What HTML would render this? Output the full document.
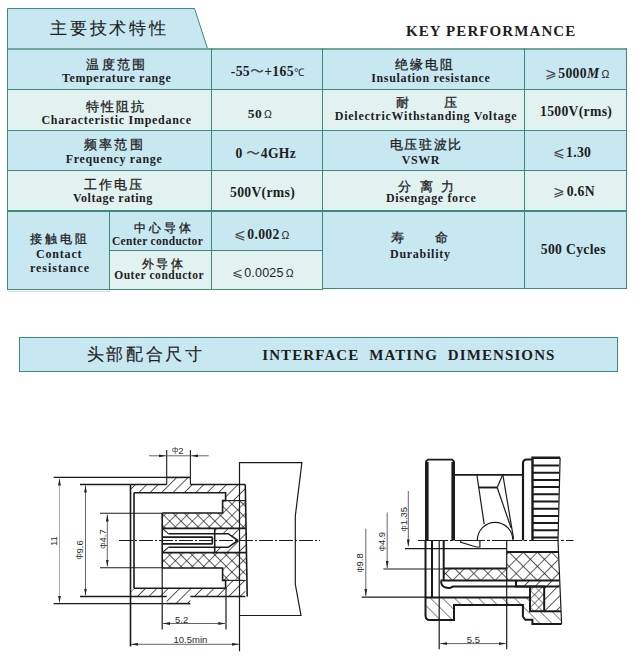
<!DOCTYPE html>
<html><head><meta charset="utf-8">
<style>
html,body{margin:0;padding:0;background:#fff;}
body{width:636px;height:659px;position:relative;overflow:hidden;font-family:"Liberation Sans",sans-serif;color:#1e1e1e;}
span[id]{position:absolute;white-space:pre;line-height:1;}
b.n{font-weight:normal;color:#4a4a4a}
b.it{font-style:italic}
b.o{font-weight:normal;font-size:10.5px;font-family:'Liberation Sans',sans-serif}
.c{position:absolute;}
.h{position:absolute;height:1px;background:#3d8a7a;}
.v{position:absolute;width:1px;background:#3d8a7a;}
svg{position:absolute;left:0;top:0;}
</style></head><body>
<svg width="636" height="659" viewBox="0 0 636 659" style="z-index:0">
<polygon points="7.5,8.5 194.5,8.5 207.5,48.5 7.5,48.5" fill="#c8e8f1" stroke="#3d8a7a" stroke-width="1"/>
</svg>
<div class="c" style="left:8px;top:49px;width:618px;height:40px;background:#c8e8f1"></div>
<div class="c" style="left:8px;top:90px;width:618px;height:40px;background:#e2f2f0"></div>
<div class="c" style="left:8px;top:131px;width:618px;height:39px;background:#c8e8f1"></div>
<div class="c" style="left:8px;top:171px;width:618px;height:40px;background:#e2f2f0"></div>
<div class="c" style="left:8px;top:211px;width:618px;height:78px;background:#c8e8f1"></div>
<div class="c" style="left:110px;top:251px;width:212px;height:38px;background:#e2f2f0"></div>
<div class="c" style="left:8px;top:291px;width:102px;height:1px;background:#d8d8d8"></div>
<!-- horizontal lines -->
<div class="h" style="left:7px;top:48px;width:620px;height:2px;background:#6fa79b"></div>
<div class="h" style="left:7px;top:89px;width:620px;"></div>
<div class="h" style="left:7px;top:130px;width:620px;"></div>
<div class="h" style="left:7px;top:170px;width:620px;"></div>
<div class="h" style="left:7px;top:210px;width:620px;height:2px"></div>
<div class="h" style="left:109px;top:250px;width:213px;"></div>
<div class="h" style="left:7px;top:289px;width:316px;"></div>
<div class="h" style="left:322px;top:288px;width:305px;"></div>
<!-- vertical lines -->
<div class="v" style="left:7px;top:48px;height:242px;"></div>
<div class="v" style="left:211px;top:48px;height:242px;"></div>
<div class="v" style="left:322px;top:48px;height:242px;"></div>
<div class="v" style="left:524px;top:48px;height:241px;"></div>
<div class="v" style="left:626px;top:48px;height:241px;"></div>
<div class="v" style="left:109px;top:211px;height:79px;"></div>
<!-- section header -->
<div class="c" style="left:19px;top:337px;width:597px;height:33px;background:#c8e8f1;border:1px solid #3d8a7a"></div>
<svg width="636" height="659" viewBox="0 0 636 659" style="z-index:1" fill="none" stroke-linecap="butt">
<defs>
<pattern id="hs" width="8.06" height="8.06" patternUnits="userSpaceOnUse" patternTransform="rotate(45) translate(2.69,0)"><line x1="0" y1="0" x2="0" y2="8.06" stroke="#222" stroke-width="1.5"/></pattern>
<pattern id="hx" width="8" height="8" patternUnits="userSpaceOnUse" patternTransform="rotate(45)"><path d="M0,0V8M0,0H8" stroke="#222" stroke-width="1.3"/></pattern>
<pattern id="hb" width="8.5" height="8.5" patternUnits="userSpaceOnUse" patternTransform="rotate(-45)"><line x1="0" y1="0" x2="0" y2="8.5" stroke="#222" stroke-width="1.1"/></pattern>
<pattern id="hx2" width="10" height="10" patternUnits="userSpaceOnUse" patternTransform="rotate(45)"><path d="M0,0V10M0,0H10" stroke="#222" stroke-width="1.4"/></pattern>
<pattern id="hx3" width="6" height="6" patternUnits="userSpaceOnUse" patternTransform="rotate(45)"><path d="M0,0V6M0,0H6" stroke="#222" stroke-width="1.2"/></pattern>
<marker id="ar" viewBox="0 0 7 2.8" refX="7" refY="1.4" markerWidth="7" markerHeight="2.8" markerUnits="userSpaceOnUse" orient="auto-start-reverse"><path d="M0,0L7,1.4L0,2.8Z" fill="#222" stroke="none"/></marker>
</defs>
<!-- ===== LEFT DRAWING ===== -->

 <!-- top fills -->
 <polygon points="130.5,484.5 166.7,484.5 166.7,477.4 190.4,477.4 190.4,484.5 245.3,484.5 245.6,500.6 225.6,500.6 225.6,492.8 134,492.8 130.5,489" fill="url(#hs)"/>
 <!-- dielectric crosshatch -->
 <polygon points="162.2,513 222.6,513 222.6,500.6 245.6,500.6 246,528.4 162.2,528.4" fill="url(#hx)"/>
 <!-- contact hatch -->
 <polygon points="214.7,528.4 246,528.4 246,540.5 237.9,540.5 228.2,533.7 214.7,533.7" fill="url(#hs)"/>
 <!-- mirrored fills -->
 <!-- shell hatch -->
 <polygon points="130.5,596.5 166.7,596.5 166.7,603.6 190.4,603.6 190.4,596.5 245.3,596.5 245.6,580.4 225.6,580.4 225.6,588.2 134,588.2 130.5,592" fill="url(#hs)"/>
 <!-- dielectric crosshatch -->
 <polygon points="162.2,568 222.6,568 222.6,580.4 245.6,580.4 246,552.6 162.2,552.6" fill="url(#hx)"/>
 <!-- contact hatch -->
 <polygon points="214.7,552.6 246,552.6 246,540.5 237.9,540.5 228.2,547.3 214.7,547.3" fill="url(#hs)"/>
 <g id="Lhalf"><g stroke="#1a1a1a" stroke-width="1.6">
  <path d="M53.6,477.4H166.7" stroke-width="1.3"/>
  <path d="M166.7,477.4H190.4"/>
  <path d="M80,484.5H130.5" stroke-width="1.3"/>
  <path d="M130.5,484.5H166.7"/>
  <path d="M190.4,484.5H245.3"/>
  <path d="M134,492.8H225.6V500.6H222.6V513H162.2"/>
  <path d="M162.2,528.4H246"/>
  <path d="M168.4,533.7H228.2L237.9,540.5"/>
  <path d="M162.2,537.1H212a3.5,3.5 0 0 1 0,3.4"/>
 </g>
 <g stroke="#1a1a1a" stroke-width="1.1">
  <path d="M225.6,500.6H245.6"/>
  <path d="M162.2,528.4L168.4,533.7"/>
  <path d="M100,513.3H162.2"/>
 </g>
</g>
<use href="#Lhalf" transform="translate(0,1081) scale(1,-1)"/>
<path d="M166.7,450V484.5M190.4,450V484.5" stroke="#1a1a1a" stroke-width="1.1"/>
<g stroke="#1a1a1a" stroke-width="1.6">
 <path d="M130.5,484.5V646.5"/>
 <path d="M134,492.8V588.2"/>
 <path d="M162.2,513V568"/>
 <path d="M162.2,568V629.6" stroke-width="1.2"/>
 <path d="M214.7,528.4V553.1"/>
 <path d="M245.3,484.5L247.2,596.6"/>
</g>
<g stroke="#1a1a1a" stroke-width="1.2">
 <path d="M239.5,651.3V462.6H301.9L295.3,516V584.3L301,615.5H239.5"/>
 <path d="M226,588V629.6"/>
</g>
<path d="M119,540.5H320" stroke="#1a1a1a" stroke-width="1" stroke-dasharray="14,2,2,2"/>
<!-- dims -->
<g stroke="#666" stroke-width="1">
 <path d="M59.5,478.5V602.8" marker-start="url(#ar)" marker-end="url(#ar)" stroke="#aaa"/>
 <path d="M85.5,485.5V595.5" marker-start="url(#ar)" marker-end="url(#ar)"/>
 <path d="M107.3,514.5V566.5" marker-start="url(#ar)" marker-end="url(#ar)"/>
 <path d="M149,455.8H166" marker-end="url(#ar)"/>
 <path d="M208.7,455.8H191" marker-end="url(#ar)"/>
 <path d="M166.7,455.8H190.4"/>
 <path d="M163,623.5H225.3" marker-start="url(#ar)" marker-end="url(#ar)"/>
 <path d="M131,644.3H239" marker-start="url(#ar)" marker-end="url(#ar)"/>
</g>
<!-- ===== RIGHT DRAWING ===== -->
<g stroke="#1a1a1a">
 <!-- flange -->
 <path d="M426.8,540.5V462M453.2,462V540.5" stroke-width="3.6"/>
 <path d="M425.5,462L428,459.7H452L454.5,462" stroke-width="1.7"/>
 <path d="M455,474.8H523" stroke-width="1.8"/>
 <path d="M523,540.5V463a3.5,3.5 0 0 1 3.5,-3.5H532" stroke-width="2.2"/>
 <path d="M532.5,540.5V457.7H560.1" stroke-width="2.4"/>
 <path d="M560.1,457.7L558,540.5L561.6,624" stroke-width="1.2"/>
 <path d="M532.5,465.5H559M532.5,472.7H559M532.5,479.9H559M532.5,487.1H559M532.5,494.3H558.8M532.5,501.5H558.6M532.5,508.7H558.5M532.5,515.9H558.3M532.5,523.1H558.2M532.5,530.3H558M532.5,537.5H558" stroke-width="2"/>
 <g stroke-width="1.2">
  <path d="M476.8,474.5L484.2,524.2"/>
  <path d="M478.8,487.5H497.2" stroke-width="1.9"/>
  <path d="M497.2,487.5L502.8,474.5"/>
  <path d="M497.2,487.5L511,527.7"/>
  <path d="M502.8,474.5L513.6,538.9"/>
  <path d="M477.3,540.5A17.8,18.2 0 0 1 512.9,540.5"/>
  <path d="M460.8,540.5V542.4L476.4,547H479.9V540.5"/>
 </g>
</g>
<path d="M418,540.5H573.6" stroke="#1a1a1a" stroke-width="1.2" stroke-dasharray="30,2,3,2"/>
<!-- section lower -->
<polygon points="443.5,568.5 506.7,568.5 506.7,580.4 443.5,580.4" fill="url(#hx2)"/>
<polygon points="506.7,552 558,552 559.3,580.4 506.7,580.4" fill="url(#hx2)"/>
<polygon points="530,586.4 544.2,586.4 544.2,611.3 530,611.3" fill="url(#hx3)"/>
<polygon points="516.8,580.4 559.3,580.4 559.6,586.4 516.8,586.4" fill="url(#hs)"/>
<polygon points="544.2,586.4 559.6,586.4 560.6,611.3 544.2,611.3" fill="url(#hs)"/>
<polygon points="425.5,597.4 530,597.4 530,611.3 560.6,611.3 561.6,624 532.4,624 532.4,619.8 525.3,619.8 522.9,616.5 522.9,605 454,605 454,620 430,620 425.5,615.5" fill="url(#hb)"/>
<g stroke="#1a1a1a" stroke-width="2">
 <path d="M425.5,540.5V615.5Q425.5,620 430,620H454V605H522.9V616.5L525.3,619.8H532.4V624H561.6"/>
 <path d="M443.7,540.5V580.4"/>
 <path d="M441,581.2C441.5,588.5 449,589 452.8,586.6H529.4"/>
 <path d="M443.5,548.6H506.7" stroke-width="1.4"/>
 <path d="M506.7,552H558.3"/>
 <path d="M443.5,568.5H506.7"/>
 <path d="M440.5,580.4H559.3"/>
 <path d="M425.5,597.4H530.3"/>
 <path d="M530,586.4H544.2V611.3H530Z"/>
 <path d="M544.2,611.3H561"/>
 <path d="M516,580.4V586.4H559.5"/>
</g>
<g stroke="#1a1a1a" stroke-width="1.2">
 <path d="M432,540.5V597.4" stroke-width="2"/>
 <path d="M439.2,540.5V649.2"/>
 <path d="M506.7,540.5V649.2"/>
 <path d="M405,548.6H443.5"/>
 <path d="M383.4,569H443.5"/>
 <path d="M361.7,597.2H425.5"/>
</g>
<g stroke="#666" stroke-width="1">
 <path d="M408.3,491V546.4" marker-end="url(#ar)"/>
 <path d="M387.2,512.6V568" marker-end="url(#ar)"/>
 <path d="M365.8,528.7V596" marker-end="url(#ar)"/>
 <path d="M440.2,643.6H505.8" marker-start="url(#ar)" marker-end="url(#ar)"/>
</g>
<g font-family="'Liberation Sans',sans-serif" font-size="9.5" fill="#2a2a2a" stroke="none">
 <text x="177.7" y="453.6" text-anchor="middle"><tspan font-size="7.5" dy="-1.2">ф</tspan><tspan dy="1.2">2</tspan></text>
 <text x="181.6" y="623" text-anchor="middle">5.2</text>
 <text x="190.4" y="642.9" text-anchor="middle">10.5min</text>
 <text x="473.4" y="642.6" text-anchor="middle">5.5</text>
 <text transform="translate(57,541.1) rotate(-90)" text-anchor="middle">11</text>
 <text transform="translate(82.6,549.9) rotate(-90)" text-anchor="middle"><tspan font-size="7.5" dy="-1.2">ф</tspan><tspan dy="1.2">9.6</tspan></text>
 <text transform="translate(105.8,539) rotate(-90)" text-anchor="middle"><tspan font-size="7.5" dy="-1.2">ф</tspan><tspan dy="1.2">4.7</tspan></text>
 <text transform="translate(407.1,519.2) rotate(-90)" text-anchor="middle"><tspan font-size="7.5" dy="-1.2">ф</tspan><tspan dy="1.2">1.35</tspan></text>
 <text transform="translate(385.4,541.6) rotate(-90)" text-anchor="middle"><tspan font-size="7.5" dy="-1.2">ф</tspan><tspan dy="1.2">4.9</tspan></text>
 <text transform="translate(363.4,562.9) rotate(-90)" text-anchor="middle"><tspan font-size="7.5" dy="-1.2">ф</tspan><tspan dy="1.2">9.8</tspan></text>
</g>
</svg>

<span id="t1" style="left:50.20px;top:20.40px;font-size:17px;letter-spacing:2.720px;font-family:'Liberation Sans',sans-serif;-webkit-text-stroke:0.15px #1e1e1e;">主要技术特性<i style="display:inline-block;width:0;height:0"></i></span>
<span id="t2" style="left:406.00px;top:23.71px;font-size:15px;letter-spacing:1.086px;font-family:'Liberation Serif',serif;font-weight:bold;">KEY PERFORMANCE<i style="display:inline-block;width:0;height:0"></i></span>
<span id="a1" style="left:86.20px;top:58.00px;font-size:13px;letter-spacing:2.367px;font-family:'Liberation Sans',sans-serif;-webkit-text-stroke:0.3px #1e1e1e;">温度范围<i style="display:inline-block;width:0;height:0"></i></span>
<span id="a2" style="left:62.00px;top:72.01px;font-size:12px;letter-spacing:0.612px;font-family:'Liberation Serif',serif;font-weight:bold;">Temperature range<i style="display:inline-block;width:0;height:0"></i></span>
<span id="b1" style="left:86.00px;top:99.60px;font-size:13px;letter-spacing:1.933px;font-family:'Liberation Sans',sans-serif;-webkit-text-stroke:0.3px #1e1e1e;">特性阻抗<i style="display:inline-block;width:0;height:0"></i></span>
<span id="b2" style="left:41.40px;top:113.60px;font-size:12px;letter-spacing:0.722px;font-family:'Liberation Serif',serif;font-weight:bold;">Characteristic Impedance<i style="display:inline-block;width:0;height:0"></i></span>
<span id="c1" style="left:84.00px;top:137.60px;font-size:13px;letter-spacing:2.167px;font-family:'Liberation Sans',sans-serif;-webkit-text-stroke:0.3px #1e1e1e;">频率范围<i style="display:inline-block;width:0;height:0"></i></span>
<span id="c2" style="left:65.80px;top:153.01px;font-size:12px;letter-spacing:0.657px;font-family:'Liberation Serif',serif;font-weight:bold;">Frequency range<i style="display:inline-block;width:0;height:0"></i></span>
<span id="d1" style="left:84.00px;top:178.20px;font-size:13px;letter-spacing:1.900px;font-family:'Liberation Sans',sans-serif;-webkit-text-stroke:0.3px #1e1e1e;">工作电压<i style="display:inline-block;width:0;height:0"></i></span>
<span id="d2" style="left:73.00px;top:192.31px;font-size:12px;letter-spacing:0.515px;font-family:'Liberation Serif',serif;font-weight:bold;">Voltage rating<i style="display:inline-block;width:0;height:0"></i></span>
<span id="e1" style="left:29.60px;top:234.00px;font-size:11.5px;letter-spacing:3.200px;font-family:'Liberation Sans',sans-serif;-webkit-text-stroke:0.3px #1e1e1e;">接触电阻<i style="display:inline-block;width:0;height:0"></i></span>
<span id="e2" style="left:36.00px;top:247.91px;font-size:12px;letter-spacing:0.817px;font-family:'Liberation Serif',serif;font-weight:bold;">Contact<i style="display:inline-block;width:0;height:0"></i></span>
<span id="e3" style="left:30.00px;top:262.01px;font-size:12px;letter-spacing:0.956px;font-family:'Liberation Serif',serif;font-weight:bold;">resistance<i style="display:inline-block;width:0;height:0"></i></span>
<span id="f1" style="left:134.00px;top:223.00px;font-size:11.5px;letter-spacing:2.933px;font-family:'Liberation Sans',sans-serif;-webkit-text-stroke:0.3px #1e1e1e;">中心导体<i style="display:inline-block;width:0;height:0"></i></span>
<span id="f2" style="left:112.00px;top:236.30px;font-size:11.5px;letter-spacing:0.293px;font-family:'Liberation Serif',serif;font-weight:bold;">Center conductor<i style="display:inline-block;width:0;height:0"></i></span>
<span id="g1" style="left:141.80px;top:258.60px;font-size:11.5px;letter-spacing:2.400px;font-family:'Liberation Sans',sans-serif;-webkit-text-stroke:0.3px #1e1e1e;">外导体<i style="display:inline-block;width:0;height:0"></i></span>
<span id="g2" style="left:114.20px;top:270.30px;font-size:11.5px;letter-spacing:0.536px;font-family:'Liberation Serif',serif;font-weight:bold;">Outer conductor<i style="display:inline-block;width:0;height:0"></i></span>
<span id="v1" style="left:230.80px;top:65.41px;font-size:13.7px;letter-spacing:0.300px;font-family:'Liberation Serif',serif;font-weight:bold;">-55<b class=n>〜</b>+165<b class=o>℃</b><i style="display:inline-block;width:0;height:0"></i></span>
<span id="v2" style="left:247.80px;top:107.01px;font-size:13.5px;letter-spacing:0.400px;font-family:'Liberation Serif',serif;font-weight:bold;">50<b class=o style="margin-left:2px">Ω</b><i style="display:inline-block;width:0;height:0"></i></span>
<span id="v3" style="left:235.60px;top:147.31px;font-size:13.7px;letter-spacing:0.300px;font-family:'Liberation Serif',serif;font-weight:bold;">0 <b class=n>〜</b>4GHz<i style="display:inline-block;width:0;height:0"></i></span>
<span id="v4" style="left:230.00px;top:186.01px;font-size:13.7px;letter-spacing:0.300px;font-family:'Liberation Serif',serif;font-weight:bold;">500V(rms)<i style="display:inline-block;width:0;height:0"></i></span>
<span id="v5" style="left:234.00px;top:228.20px;font-size:13.7px;letter-spacing:0.300px;font-family:'Liberation Serif',serif;font-weight:bold;"><b class=n style="margin-right:1px">⩽</b>0.002<b class=o style="margin-left:2px">Ω</b><i style="display:inline-block;width:0;height:0"></i></span>
<span id="v6" style="left:232.00px;top:267.00px;font-size:12.5px;letter-spacing:0.200px;font-family:'Liberation Sans',sans-serif;"><b class=n style="margin-right:1px">⩽</b>0.0025<b class=o style="margin-left:2px">Ω</b><i style="display:inline-block;width:0;height:0"></i></span>
<span id="h1" style="left:395.00px;top:58.60px;font-size:12.5px;letter-spacing:1.933px;font-family:'Liberation Sans',sans-serif;-webkit-text-stroke:0.3px #1e1e1e;">绝缘电阻<i style="display:inline-block;width:0;height:0"></i></span>
<span id="h2" style="left:371.20px;top:72.41px;font-size:12px;letter-spacing:0.660px;font-family:'Liberation Serif',serif;font-weight:bold;">Insulation resistance<i style="display:inline-block;width:0;height:0"></i></span>
<span id="i1" style="left:396.00px;top:97.00px;font-size:12.5px;letter-spacing:0.000px;font-family:'Liberation Sans',sans-serif;-webkit-text-stroke:0.3px #1e1e1e;">耐          压<i style="display:inline-block;width:0;height:0"></i></span>
<span id="i2" style="left:334.80px;top:109.81px;font-size:12px;letter-spacing:0.745px;font-family:'Liberation Serif',serif;font-weight:bold;">DielectricWithstanding Voltage<i style="display:inline-block;width:0;height:0"></i></span>
<span id="j1" style="left:389.80px;top:138.60px;font-size:12.5px;letter-spacing:1.650px;font-family:'Liberation Sans',sans-serif;-webkit-text-stroke:0.3px #1e1e1e;">电压驻波比<i style="display:inline-block;width:0;height:0"></i></span>
<span id="j2" style="left:401.80px;top:153.60px;font-size:12px;letter-spacing:0.533px;font-family:'Liberation Serif',serif;font-weight:bold;">VSWR<i style="display:inline-block;width:0;height:0"></i></span>
<span id="k1" style="left:398.40px;top:181.20px;font-size:12.5px;letter-spacing:2.425px;font-family:'Liberation Sans',sans-serif;-webkit-text-stroke:0.3px #1e1e1e;">分 离 力<i style="display:inline-block;width:0;height:0"></i></span>
<span id="k2" style="left:386.00px;top:192.31px;font-size:12px;letter-spacing:0.643px;font-family:'Liberation Serif',serif;font-weight:bold;">Disengage force<i style="display:inline-block;width:0;height:0"></i></span>
<span id="l1" style="left:391.00px;top:232.00px;font-size:12.5px;letter-spacing:0.000px;font-family:'Liberation Sans',sans-serif;-webkit-text-stroke:0.3px #1e1e1e;">寿         命<i style="display:inline-block;width:0;height:0"></i></span>
<span id="l2" style="left:390.00px;top:248.01px;font-size:12px;letter-spacing:0.733px;font-family:'Liberation Serif',serif;font-weight:bold;">Durability<i style="display:inline-block;width:0;height:0"></i></span>
<span id="w1" style="left:545.00px;top:66.70px;font-size:13.7px;letter-spacing:0.300px;font-family:'Liberation Serif',serif;font-weight:bold;"><b class=n style="margin-right:1px">⩾</b>5000<b class=it>M</b><b class=o style="margin-left:2px">Ω</b><i style="display:inline-block;width:0;height:0"></i></span>
<span id="w2" style="left:540.00px;top:105.01px;font-size:13.7px;letter-spacing:0.300px;font-family:'Liberation Serif',serif;font-weight:bold;">1500V(rms)<i style="display:inline-block;width:0;height:0"></i></span>
<span id="w3" style="left:552.80px;top:145.81px;font-size:13.7px;letter-spacing:0.300px;font-family:'Liberation Serif',serif;font-weight:bold;"><b class=n style="margin-right:1px">⩽</b>1.30<i style="display:inline-block;width:0;height:0"></i></span>
<span id="w4" style="left:553.40px;top:185.01px;font-size:13.7px;letter-spacing:0.300px;font-family:'Liberation Serif',serif;font-weight:bold;"><b class=n style="margin-right:1px">⩾</b>0.6N<i style="display:inline-block;width:0;height:0"></i></span>
<span id="w5" style="left:540.80px;top:242.51px;font-size:13.7px;letter-spacing:0.300px;font-family:'Liberation Serif',serif;font-weight:bold;">500 Cycles<i style="display:inline-block;width:0;height:0"></i></span>
<span id="s1" style="left:86.60px;top:346.20px;font-size:17px;letter-spacing:2.660px;font-family:'Liberation Sans',sans-serif;-webkit-text-stroke:0.15px #1e1e1e;">头部配合尺寸<i style="display:inline-block;width:0;height:0"></i></span>
<span id="s2" style="left:262.20px;top:348.41px;font-size:15px;letter-spacing:1.111px;font-family:'Liberation Serif',serif;font-weight:bold;">INTERFACE  MATING  DIMENSIONS<i style="display:inline-block;width:0;height:0"></i></span>
</body></html>
